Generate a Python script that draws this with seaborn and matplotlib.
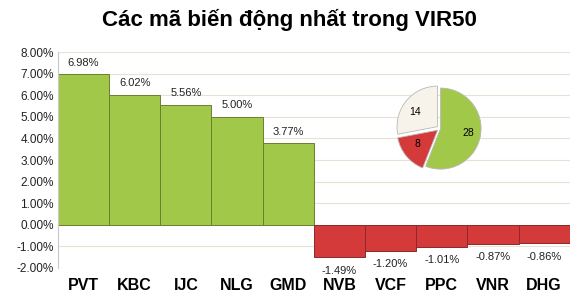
import matplotlib
matplotlib.use("Agg")
import matplotlib.pyplot as plt
import seaborn as sns
import pandas as pd

codes = ["PVT", "KBC", "IJC", "NLG", "GMD", "NVB", "VCF", "PPC", "VNR", "DHG"]
changes = [6.98, 6.02, 5.56, 5.00, 3.77, -1.49, -1.20, -1.01, -0.87, -0.86]
pie_labels = ["28", "8", "14"]
pie_values = [28, 8, 14]
yticks = [-2, -1, 0, 1, 2, 3, 4, 5, 6, 7, 8]

green = "#a2c84a"
red = "#d43a3a"
cream = "#f8f3ea"

sns.set_theme(style="white")
plt.rcParams['font.family'] = ['Liberation Sans', 'DejaVu Sans']

df = pd.DataFrame({"code": codes, "chg": changes})
df["sign"] = ["up" if v >= 0 else "down" for v in changes]

fig = plt.figure(figsize=(5.79, 3.08), dpi=100)
ax = fig.add_axes([0.1, 0.13, 0.884, 0.701])
sns.barplot(data=df, x="code", y="chg", hue="sign", palette={"up": green, "down": red},
            dodge=False, width=1.0, saturation=1, edgecolor="#6a8030", linewidth=0.7,
            legend=False, ax=ax)
for bar in ax.patches:
    if bar.get_height() < 0:
        bar.set_edgecolor("#8a2a2a")
ax.set_ylim(-2, 8)
ax.set_xlim(-0.5, 9.5)
ax.set_yticks(yticks)
ax.set_yticklabels([f"{t:.2f}%" for t in yticks], fontsize=8.5, color="#222222")
ax.yaxis.grid(True, color="#e8e2d6", linewidth=0.8)
ax.set_axisbelow(True)
ax.tick_params(axis="y", length=0, pad=3)
ax.tick_params(axis="x", length=0, pad=7)
ax.set_xticklabels(codes, fontsize=11.5, fontweight="bold", color="black")
ax.set_xlabel("")
ax.set_ylabel("")
for s in ["top", "right", "bottom"]:
    ax.spines[s].set_visible(False)
ax.spines["left"].set_color("#c8c8c8")
ax.spines["left"].set_linewidth(0.8)

for i, v in enumerate(changes):
    if v >= 0:
        ax.text(i, v + 0.3, f"{v:.2f}%", ha="center", va="bottom", fontsize=8, color="#222222")
    else:
        ax.text(i, v - 0.4, f"{v:.2f}%", ha="center", va="top", fontsize=8, color="#222222")

fig.text(0.5, 0.935, "Các mã biến động nhất trong VIR50", ha="center", va="center",
         fontsize=16, fontweight="bold", color="black")

pax = fig.add_axes([0.672, 0.418, 0.175, 0.33])
wedges, texts = pax.pie(pie_values, colors=[green, red, cream], startangle=90, counterclock=False,
                        explode=[0.02, 0.07, 0.07], labels=pie_labels, labeldistance=0.55,
                        wedgeprops={"edgecolor": "#b8b8b8", "linewidth": 0.6},
                        textprops={"fontsize": 7.5, "color": "black"})
pax.set_aspect("equal")

fig.savefig("out.png", dpi=100)
